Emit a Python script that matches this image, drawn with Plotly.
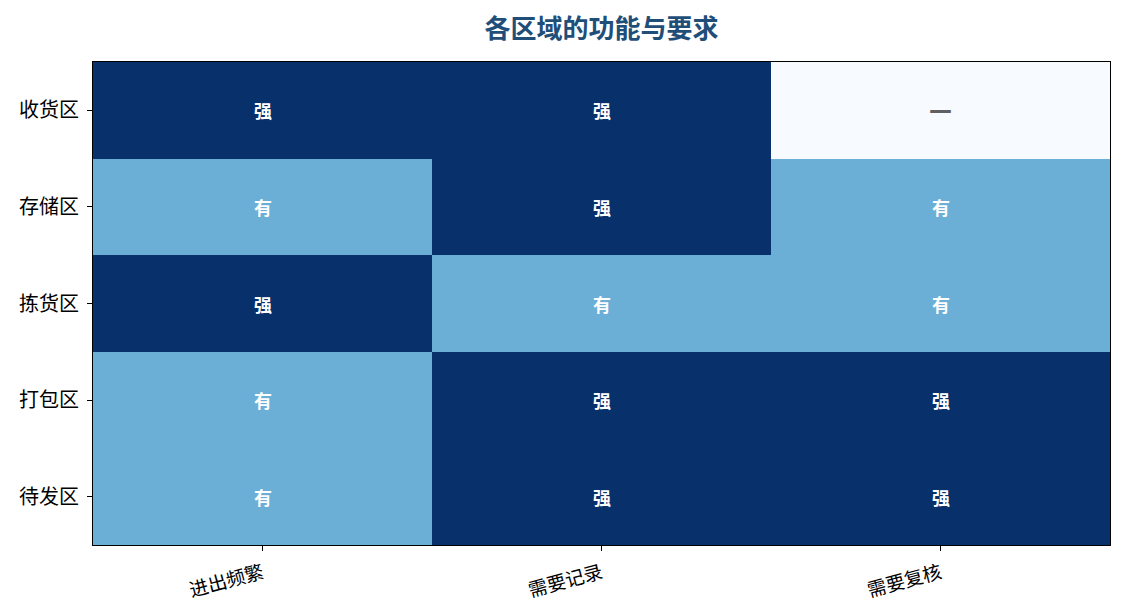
import plotly.graph_objects as go

zones = ["收货区", "存储区", "拣货区", "打包区", "待发区"]
features = ["进出频繁", "需要记录", "需要复核"]
labels = [
    ["强", "强", "—"],
    ["有", "强", "有"],
    ["强", "有", "有"],
    ["有", "强", "强"],
    ["有", "强", "强"],
]
level = {"—": 0, "有": 1, "强": 2}
z = [[level[v] for v in row] for row in labels]

colorscale = [[0.0, "#f7fbff"], [0.5, "#6baed6"], [1.0, "#08306b"]]

fig = go.Figure(go.Heatmap(
    z=z, x=features, y=zones, zmin=0, zmax=2,
    colorscale=colorscale, showscale=False, xgap=0, ygap=0,
    hoverinfo="skip",
))

annotations = []
for i, row in enumerate(labels):
    for j, v in enumerate(row):
        if v == "—":
            annotations.append(dict(
                x=features[j], y=zones[i], text=f"<b>{v}</b>", showarrow=False,
                font=dict(size=23, color="#606060", family="DejaVu Sans")))
        else:
            annotations.append(dict(
                x=features[j], y=zones[i], text=f"<b>{v}</b>", showarrow=False,
                font=dict(size=18, color="white", family="Noto Sans CJK SC")))

fig.update_layout(
    width=1125, height=615,
    margin=dict(l=85, r=23, t=54, b=78),
    paper_bgcolor="white", plot_bgcolor="white",
    font=dict(family="Noto Sans CJK SC", size=14, color="black"),
    title=dict(text="<b>各区域的功能与要求</b>", x=(85 + 1102) / 2 / 1125, xanchor="center",
               y=1 - 21 / 615, yanchor="middle",
               font=dict(size=26, color="#1f4e79", family="Noto Sans CJK SC")),
    annotations=annotations,
)
fig.update_xaxes(showline=True, linecolor="black", linewidth=1, mirror=True,
                 ticks="outside", ticklen=5, tickcolor="black", tickangle=-15,
                 tickfont=dict(size=19), ticklabelstandoff=4,
                 showgrid=False, zeroline=False)
fig.update_yaxes(showline=True, linecolor="black", linewidth=1, mirror=True,
                 ticks="outside", ticklen=5, tickcolor="black", autorange="reversed",
                 tickfont=dict(size=20), ticklabelstandoff=4,
                 showgrid=False, zeroline=False)

fig.write_html("out.html")
